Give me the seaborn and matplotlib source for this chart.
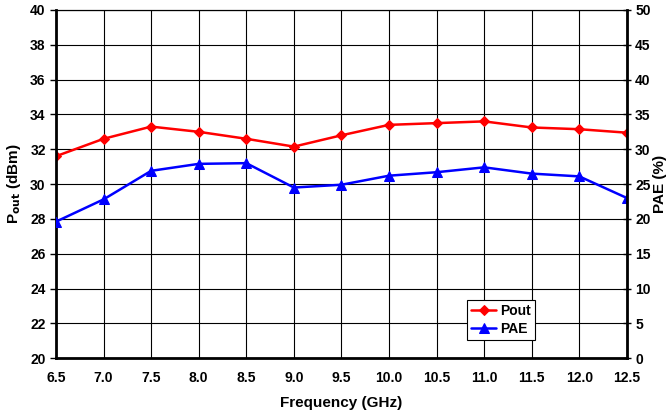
import matplotlib
matplotlib.use("Agg")
import matplotlib.pyplot as plt
import seaborn as sns
import pandas as pd

freq = [6.5, 7.0, 7.5, 8.0, 8.5, 9.0, 9.5, 10.0, 10.5, 11.0, 11.5, 12.0, 12.5]
pout = [31.6, 32.6, 33.3, 33.0, 32.6, 32.15, 32.8, 33.4, 33.5, 33.6, 33.25, 33.15, 32.95]
pae = [19.6, 22.8, 26.9, 27.9, 28.0, 24.5, 24.9, 26.2, 26.7, 27.4, 26.5, 26.1, 23.0]

df = pd.DataFrame({'freq': freq, 'pout': pout, 'pae': pae})

sns.set_style("white")
plt.rcParams['font.family'] = ['Liberation Sans', 'DejaVu Sans']
plt.rcParams['font.weight'] = 'bold'
plt.rcParams['text.color'] = 'black'
plt.rcParams['axes.labelcolor'] = 'black'
plt.rcParams['xtick.color'] = 'black'
plt.rcParams['ytick.color'] = 'black'

fig = plt.figure(figsize=(6.7, 4.15), dpi=100)
ax = fig.add_axes([0.0836, 0.137, 0.852, 0.839])
ax2 = ax.twinx()

sns.lineplot(data=df, x='freq', y='pout', ax=ax, color='#ff0000', marker='D',
             markersize=5, markeredgecolor='#ff0000', linewidth=1.8, label='Pout', legend=False)
sns.lineplot(data=df, x='freq', y='pae', ax=ax2, color='#0000ff', marker='^',
             markersize=7, markeredgecolor='#0000ff', linewidth=1.8, label='PAE', legend=False)

ax.set_xlim(6.5, 12.5)
ax.set_ylim(20, 40)
ax2.set_ylim(0, 50)
ax.set_xticks(freq)
ax.set_xticklabels([f'{f:.1f}' for f in freq])
ax.set_yticks(range(20, 41, 2))
ax2.set_yticks(range(0, 51, 5))

ax.grid(True, color='black', linewidth=0.8)
ax.set_axisbelow(True)

for a in (ax, ax2):
    for s in a.spines.values():
        s.set_color('black')
        s.set_linewidth(0.8)
ax.spines['left'].set_linewidth(2)
ax.spines['bottom'].set_linewidth(2)
ax2.spines['right'].set_linewidth(2)
ax2.spines['left'].set_visible(False)
ax2.spines['bottom'].set_visible(False)

ax.tick_params(axis='both', labelsize=10, length=4, width=1, color='black',
               labelcolor='black', direction='out')
ax.tick_params(axis='x', pad=5)
ax2.tick_params(axis='y', labelsize=10, length=6, width=1, color='black',
                labelcolor='black', direction='inout', pad=3)
for lbl in ax.get_xticklabels() + ax.get_yticklabels() + ax2.get_yticklabels():
    lbl.set_fontweight('bold')

ax.set_xlabel('Frequency (GHz)', fontsize=11, fontweight='bold', labelpad=8, color='black')
ax.set_ylabel('P$_{\\mathbf{out}}$ (dBm)', fontsize=11, fontweight='bold', labelpad=5, color='black')
ax2.set_ylabel('PAE (%)', fontsize=11, fontweight='bold', labelpad=2, color='black')

h1, l1 = ax.get_legend_handles_labels()
h2, l2 = ax2.get_legend_handles_labels()
leg = ax2.legend(h1 + h2, l1 + l2, loc='lower left', bbox_to_anchor=(0.72, 0.052),
                 borderaxespad=0, fancybox=False, framealpha=1, edgecolor='black',
                 handlelength=1.8, borderpad=0.3, labelspacing=0.3, handletextpad=0.3,
                 prop={'weight': 'bold', 'size': 10})
leg.get_frame().set_linewidth(0.8)
for t in leg.get_texts():
    t.set_color('black')

fig.savefig('out.png', dpi=100)
